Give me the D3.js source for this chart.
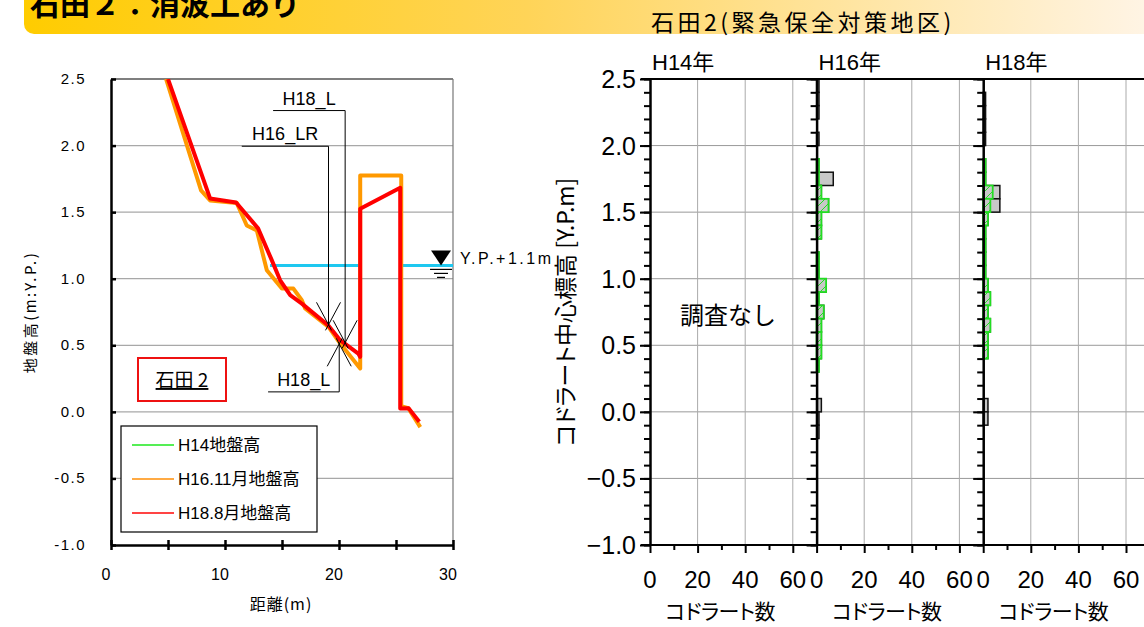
<html>
<head>
<script src="https://cdn.jsdelivr.net/npm/d3@7"></script>
<style>
body { margin: 0; background: #fff; }
svg text { font-family: "Liberation Sans", "Noto Sans CJK JP", sans-serif; }
.jp { font-family: "Noto Sans CJK JP", sans-serif; }
.kana { font-family: "Noto Sans CJK JP", sans-serif; font-feature-settings: "palt"; }
</style>
</head>
<body>
<script>

// ground profile, distance (m) and height (Y.P. m)
var h16Dist = [4.83, 7.9, 8.69, 11.04, 11.91, 12.79, 13.67, 14.99, 16.0, 16.74, 17.03, 19.08, 20.11, 21.86, 21.86, 25.46, 25.46, 26.08, 27.13];
var h16Elev = [2.5, 1.663, 1.588, 1.568, 1.4, 1.363, 1.063, 0.926, 0.926, 0.838, 0.776, 0.638, 0.513, 0.326, 1.776, 1.776, 0.043, 0.028, -0.115];
var h18Dist = [5.0, 8.69, 10.97, 12.9, 14.11, 14.84, 15.72, 16.74, 19.05, 20.1, 21.69, 21.86, 21.86, 25.37, 25.37, 26.1, 27.04];
var h18Elev = [2.5, 1.603, 1.573, 1.378, 1.138, 0.988, 0.876, 0.813, 0.65, 0.538, 0.438, 0.413, 1.526, 1.683, 0.026, 0.028, -0.075];
var waterLevel = 1.1;
var waterFrom = [13.95, 25.4];
var waterTo = [21.86, 30];

// quadrat counts per 0.1m elevation bin (bin lower edge)
var binLow = [2.4, 2.3, 2.2, 2.1, 2.0, 1.9, 1.8, 1.7, 1.6, 1.5, 1.4, 1.3, 1.2, 1.1, 1.0, 0.9, 0.8, 0.7, 0.6, 0.5, 0.4, 0.3, 0.2, 0.1, 0.0, -0.1, -0.2];
var h16Total = [1, 1, 1, 0, 1, 0, 1, 7, 2, 5, 2, 2, 0, 1, 1, 4, 1, 3, 2, 2, 2, 1, 0, 0, 2, 1, 1];
var h16Green = [0, 0, 0, 0, 0, 0, 1, 1, 2, 5, 2, 2, 0, 1, 1, 4, 1, 3, 2, 2, 2, 1, 0, 0, 0, 0, 0];
var h18Total = [0, 1, 1, 1, 1, 0, 1, 1, 7, 7, 2, 1, 1, 1, 1, 2, 3, 2, 3, 2, 2, 0, 0, 0, 2, 2, 0];
var h18Green = [0, 0, 0, 0, 0, 0, 1, 1, 4, 3, 2, 1, 1, 1, 1, 2, 3, 2, 3, 2, 2, 0, 0, 0, 0, 0, 0];

var yTicks = [-1.0, -0.5, 0.0, 0.5, 1.0, 1.5, 2.0, 2.5];
var distTicks = [0, 10, 20, 30];
var countTicks = [0, 20, 40, 60];
var panelNames = ["H14年", "H16年", "H18年"];
var legendNames = ["H14地盤高", "H16.11月地盤高", "H18.8月地盤高"];
var legendColors = ["#55ee55", "#ffaa44", "#ff4444"];

var svg = d3.select("body").append("svg")
	.attr("width", 1144).attr("height", 627);

var defs = svg.append("defs");
var grad = defs.append("linearGradient").attr("id", "band")
	.attr("gradientUnits", "userSpaceOnUse")
	.attr("x1", 24).attr("x2", 1144).attr("y1", 0).attr("y2", 0);
grad.append("stop").attr("offset", "0%").attr("stop-color", "#ffcc00");
grad.append("stop").attr("offset", "45%").attr("stop-color", "#ffd458");
grad.append("stop").attr("offset", "100%").attr("stop-color", "#fff4e4");

var hatch = defs.append("pattern").attr("id", "hatch")
	.attr("patternUnits", "userSpaceOnUse")
	.attr("width", 8).attr("height", 8);
hatch.append("rect").attr("width", 8).attr("height", 8).attr("fill", "#c8c8c8");
hatch.append("line").attr("x1", 0).attr("y1", 8).attr("x2", 8).attr("y2", 0)
	.attr("stroke", "#22dd22").attr("stroke-width", 1);

// header band
svg.append("rect").attr("x", 24).attr("y", -20).attr("width", 1150).attr("height", 54)
	.attr("rx", 10).attr("fill", "url(#band)");
svg.append("text").attr("class", "jp").attr("x", 30).attr("y", 15)
	.attr("font-size", 30).attr("font-weight", "bold").text("石田２：消波工あり");
svg.append("text").attr("class", "jp").attr("x", 651).attr("y", 31)
	.attr("font-size", 23).attr("letter-spacing", 3.5).text("石田2(緊急保全対策地区)");

// ---------- left: ground profile ----------
var lx = d3.scaleLinear().domain([0, 30]).range([111, 453]);
var ly = d3.scaleLinear().domain([-1, 2.5]).range([545, 79]);

defs.append("clipPath").attr("id", "plotclip").append("rect")
	.attr("x", lx(0)).attr("y", ly(2.5)).attr("width", lx(30) - lx(0)).attr("height", ly(-1) - ly(2.5));

var left = svg.append("g");

left.selectAll(".grid").data(yTicks.slice(1, 7)).enter().append("line")
	.attr("x1", lx(0)).attr("x2", lx(30))
	.attr("y1", function(d) { return ly(d); }).attr("y2", function(d) { return ly(d); })
	.attr("stroke", "#a8a8a8").attr("stroke-width", 1.2);
left.append("line").attr("x1", lx(0)).attr("x2", lx(30)).attr("y1", ly(2.5)).attr("y2", ly(2.5))
	.attr("stroke", "#555").attr("stroke-width", 1.5);
left.append("line").attr("x1", lx(30)).attr("x2", lx(30)).attr("y1", ly(2.5)).attr("y2", ly(-1))
	.attr("stroke", "#777").attr("stroke-width", 1.2);

var yAxisL = left.append("g").attr("transform", "translate(" + lx(0) + ",0)")
	.call(d3.axisRight(ly).tickValues(yTicks).tickSize(5).tickSizeOuter(0).tickFormat(""));
yAxisL.selectAll("line").attr("stroke-width", 2.5);
yAxisL.select(".domain").attr("stroke-width", 2.5);

var xAxisL = left.append("g").attr("transform", "translate(0," + ly(-1) + ")")
	.call(d3.axisBottom(lx).tickValues(d3.range(0, 31, 5)).tickSize(5).tickSizeOuter(0).tickFormat(""));
xAxisL.selectAll(".tick line").attr("y1", -5).attr("stroke-width", 2.5);
xAxisL.select(".domain").attr("stroke-width", 2.5);

left.selectAll(".ylab").data(yTicks).enter().append("text")
	.attr("x", 86).attr("y", function(d) { return ly(d) + 5; })
	.attr("text-anchor", "end").attr("font-size", 15).attr("letter-spacing", 1.5)
	.text(function(d) { return d.toFixed(1); });
left.selectAll(".xlab").data(distTicks).enter().append("text")
	.attr("x", function(d) { return lx(d) - 5; }).attr("y", 580)
	.attr("text-anchor", "middle").attr("font-size", 16)
	.text(function(d) { return d; });
left.append("text").attr("class", "jp").attr("x", 281).attr("y", 610)
	.attr("text-anchor", "middle").attr("font-size", 16).attr("letter-spacing", 1).text("距離(m)");
left.append("text").attr("class", "jp")
	.attr("transform", "translate(36,312) rotate(-90)")
	.attr("text-anchor", "middle").attr("font-size", 15).attr("letter-spacing", 2.5).text("地盤高(m:Y.P.)");

// water level
var plot = left.append("g").attr("clip-path", "url(#plotclip)");
plot.selectAll(".water").data(waterFrom).enter().append("line")
	.attr("x1", function(d) { return lx(d); })
	.attr("x2", function(d, i) { return lx(waterTo[i]); })
	.attr("y1", ly(waterLevel)).attr("y2", ly(waterLevel))
	.attr("stroke", "#1ec8f0").attr("stroke-width", 3);

var line = d3.line()
	.x(function(d) { return lx(d[0]); })
	.y(function(d) { return ly(d[1]); });
plot.append("path").datum(d3.zip(h16Dist, h16Elev)).attr("d", line)
	.attr("fill", "none").attr("stroke", "#ff9900").attr("stroke-width", 4).attr("stroke-linejoin", "round");
plot.append("path").datum(d3.zip(h18Dist, h18Elev)).attr("d", line)
	.attr("fill", "none").attr("stroke", "#ff0000").attr("stroke-width", 4).attr("stroke-linejoin", "round");

// water mark
var wx = lx(28.95), wy = ly(waterLevel);
left.append("path").attr("d", "M" + (wx - 10) + "," + (wy - 15) + "L" + (wx + 10) + "," + (wy - 15) + "L" + wx + "," + wy + "Z")
	.attr("fill", "#000");
[[11, 4], [7, 8], [4, 12]].forEach(function(m) {
	left.append("line").attr("x1", wx - m[0]).attr("x2", wx + m[0])
		.attr("y1", wy + m[1]).attr("y2", wy + m[1]).attr("stroke", "#000").attr("stroke-width", 1.2);
});
left.append("text").attr("x", 460).attr("y", 264).attr("font-size", 16).attr("letter-spacing", 2.5)
	.text("Y.P.+1.1m");

// quadrat line annotations
var notes = [
	{ label: "H18_L", x0: 14.22, yl: 2.263, xp: 20.54, yp: 0.515, up: false },
	{ label: "H16_LR", x0: 11.47, yl: 1.995, xp: 19.08, yp: 0.65, up: false },
	{ label: "H18_L", x0: 13.78, yl: 0.15, xp: 20.02, yp: 0.515, up: true }
];
notes.forEach(function(n) {
	var px = lx(n.xp), py = ly(n.yp), ty = ly(n.yl);
	left.append("path").attr("d", "M" + lx(n.x0) + "," + ty + "L" + px + "," + ty + "L" + px + "," + py)
		.attr("fill", "none").attr("stroke", "#000").attr("stroke-width", 1);
	var s = n.up ? 1 : -1;
	left.append("line").attr("x1", px - 12).attr("y1", py + s * 23).attr("x2", px + 3).attr("y2", py - s * 5)
		.attr("stroke", "#000").attr("stroke-width", 1);
	left.append("line").attr("x1", px + 12).attr("y1", py + s * 23).attr("x2", px - 3).attr("y2", py - s * 5)
		.attr("stroke", "#000").attr("stroke-width", 1);
	left.append("text").attr("x", (lx(n.x0) + px) / 2).attr("y", ty - 6)
		.attr("text-anchor", "middle").attr("font-size", 18).text(n.label);
});

// site label
left.append("rect").attr("x", 138).attr("y", 358).attr("width", 88).attr("height", 43)
	.attr("fill", "#fff").attr("stroke", "#ee1111").attr("stroke-width", 2);
left.append("text").attr("class", "jp").attr("x", 182).attr("y", 387).attr("text-anchor", "middle")
	.attr("font-size", 19).attr("text-decoration", "underline").text("石田 2");

// legend
var lg = left.append("g");
lg.append("rect").attr("x", 121).attr("y", 426).attr("width", 196).attr("height", 106)
	.attr("fill", "#fff").attr("stroke", "#000").attr("stroke-width", 1.2);
lg.selectAll(".lgl").data(legendNames).enter().append("line")
	.attr("x1", 132).attr("x2", 174)
	.attr("y1", function(d, i) { return 445 + i * 34; }).attr("y2", function(d, i) { return 445 + i * 34; })
	.attr("stroke", function(d, i) { return legendColors[i]; }).attr("stroke-width", 2);
lg.selectAll(".lgt").data(legendNames).enter().append("text")
	.attr("x", 178).attr("y", function(d, i) { return 451 + i * 34; })
	.attr("font-size", 17).text(function(d) { return d; });

// ---------- right: quadrat histograms ----------
var ry = d3.scaleLinear().domain([-1, 2.5]).range([545, 79]);
var panelW = 166.6;
var right = svg.append("g");

right.selectAll(".hgrid").data(yTicks.slice(1, 7)).enter().append("line")
	.attr("x1", 641).attr("x2", 1144)
	.attr("y1", function(d) { return ry(d); }).attr("y2", function(d) { return ry(d); })
	.attr("stroke", "#999").attr("stroke-width", 1);

var panelData = [[null, null], [h16Total, h16Green], [h18Total, h18Green]];

panelNames.forEach(function(name, p) {
	var x0 = 650 + p * panelW;
	var cx = d3.scaleLinear().domain([0, 70]).range([x0, x0 + panelW]);
	var g = right.append("g");

	g.selectAll(".vgrid").data([20, 40, 60]).enter().append("line")
		.attr("x1", function(d) { return cx(d); }).attr("x2", function(d) { return cx(d); })
		.attr("y1", ry(2.5)).attr("y2", ry(-1))
		.attr("stroke", "#aaa").attr("stroke-width", 1);

	var tot = panelData[p][0], grn = panelData[p][1];
	if (tot) {
		g.selectAll(".tot").data(binLow).enter().filter(function(d, i) { return tot[i] > 0; })
			.append("rect")
			.attr("x", cx(0)).attr("y", function(d) { return ry(d + 0.1); })
			.attr("width", function(d) { return cx(tot[binLow.indexOf(d)]) - cx(0); })
			.attr("height", function(d) { return ry(d) - ry(d + 0.1); })
			.attr("fill", "#c8c8c8").attr("stroke", "#111").attr("stroke-width", 1.5);
		g.selectAll(".grn").data(binLow).enter().filter(function(d, i) { return grn[i] > 0; })
			.append("rect")
			.attr("x", cx(0)).attr("y", function(d) { return ry(d + 0.1); })
			.attr("width", function(d) { return cx(grn[binLow.indexOf(d)]) - cx(0); })
			.attr("height", function(d) { return ry(d) - ry(d + 0.1); })
			.attr("fill", "url(#hatch)").attr("stroke", "#22dd22").attr("stroke-width", 1.8);
	}

	// y axis, minor and major ticks
	var minor = g.append("g").attr("transform", "translate(" + x0 + ",0)")
		.call(d3.axisLeft(ry).tickValues(d3.range(-10, 26).map(function(v) { return v / 10; }))
			.tickSize(6).tickSizeOuter(0).tickFormat(""));
	minor.selectAll("line").attr("stroke-width", 2);
	minor.select(".domain").attr("stroke-width", 2.5);
	g.append("g").attr("transform", "translate(" + x0 + ",0)")
		.call(d3.axisLeft(ry).tickValues(yTicks).tickSize(10).tickSizeOuter(0).tickFormat(""))
		.selectAll("line").attr("stroke-width", 2);

	var xa = g.append("g").attr("transform", "translate(0," + ry(-1) + ")")
		.call(d3.axisBottom(cx).tickValues([0, 10, 20, 30, 40, 50, 60]).tickSize(8).tickSizeOuter(0).tickFormat(""));
	xa.selectAll(".tick line").attr("stroke-width", 2)
		.attr("y2", function(d) { return d % 20 === 0 ? 8 : 5; });
	xa.select(".domain").remove();

	g.selectAll(".clab").data(countTicks).enter().append("text")
		.attr("x", function(d) { return cx(d); }).attr("y", 588)
		.attr("text-anchor", "middle").attr("font-size", 24)
		.text(function(d) { return d; });
	g.append("text").attr("class", "kana").attr("x", cx(29.5)).attr("y", 619)
		.attr("text-anchor", "middle").attr("font-size", 21).attr("letter-spacing", -0.5).text("コドラート数");
	g.append("text").attr("x", x0 + 2).attr("y", 70)
		.attr("font-size", 22).text(name);
});

right.append("line").attr("x1", 641).attr("x2", 1144).attr("y1", ry(2.5)).attr("y2", ry(2.5))
	.attr("stroke", "#000").attr("stroke-width", 2);
right.append("line").attr("x1", 641).attr("x2", 1144).attr("y1", ry(-1)).attr("y2", ry(-1))
	.attr("stroke", "#000").attr("stroke-width", 2);

right.selectAll(".rylab").data(yTicks).enter().append("text")
	.attr("x", 636).attr("y", function(d) { return ry(d) + 9; })
	.attr("text-anchor", "end").attr("font-size", 25)
	.text(function(d) { return d3.format(".1f")(d); });

right.append("text").attr("class", "kana")
	.attr("transform", "translate(574,312) rotate(-90)")
	.attr("text-anchor", "middle").attr("font-size", 23).text("コドラート中心標高 [Y.P.m]");
right.append("text").attr("class", "jp").attr("x", 680).attr("y", 324)
	.attr("font-size", 24).text("調査なし");

</script>
</body>
</html>
